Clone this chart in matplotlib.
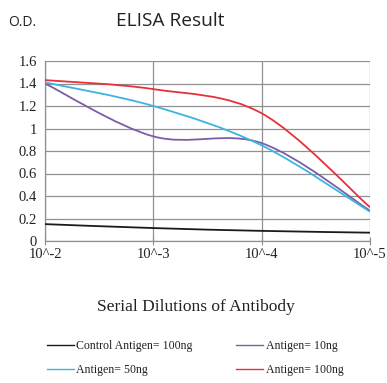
import matplotlib
matplotlib.use("Agg")
import matplotlib.pyplot as plt
from matplotlib.path import Path
from matplotlib.patches import PathPatch
from matplotlib.lines import Line2D

x_labels = ["10^-2", "10^-3", "10^-4", "10^-5"]
control_100 = [0.15, 0.115, 0.09, 0.074]
antigen_10 = [1.40, 0.93, 0.87, 0.27]
antigen_50 = [1.41, 1.20, 0.85, 0.26]
antigen_100 = [1.43, 1.35, 1.135, 0.30]

series = [
    ("Control Antigen= 100ng", control_100, "#1a1a1a"),
    ("Antigen= 10ng", antigen_10, "#7b5ea7"),
    ("Antigen= 50ng", antigen_50, "#3cb4e0"),
    ("Antigen= 100ng", antigen_100, "#e8303a"),
]

fig = plt.figure(figsize=(3.87, 3.83), dpi=100)
ax = fig.add_axes([45/387, 1-241/383, 325/387, 180/383])

def smooth_path(xs, ys):
    pts = list(zip(xs, ys))
    n = len(pts)
    verts = [pts[0]]
    codes = [Path.MOVETO]
    for i in range(n - 1):
        p0 = pts[i - 1] if i > 0 else pts[i]
        p1 = pts[i]
        p2 = pts[i + 1]
        p3 = pts[i + 2] if i + 2 < n else pts[i + 1]
        c1 = (p1[0] + (p2[0] - p0[0]) / 6, p1[1] + (p2[1] - p0[1]) / 6)
        c2 = (p2[0] - (p3[0] - p1[0]) / 6, p2[1] - (p3[1] - p1[1]) / 6)
        verts += [c1, c2, p2]
        codes += [Path.CURVE4] * 3
    return Path(verts, codes)

xs = list(range(len(x_labels)))
handles = []
for label, ys, color in series:
    ax.add_patch(PathPatch(smooth_path(xs, ys), facecolor="none",
                           edgecolor=color, lw=1.3, zorder=3))
    handles.append(Line2D([], [], color=color, lw=1.0, label=label))

ax.set_xlim(0, 3)
ax.set_ylim(0, 1.6)
ax.set_xticks(xs)
ax.set_xticklabels(x_labels)
ax.set_yticks([0, 0.2, 0.4, 0.6, 0.8, 1.0, 1.2, 1.4, 1.6])
ax.set_yticklabels(["0", "0.2", "0.4", "0.6", "0.8", "1", "1.2", "1.4", "1.6"])
ax.grid(True, color="#909090", lw=0.9)
ax.set_axisbelow(True)
for s in ["top", "right"]:
    ax.spines[s].set_visible(False)
for s in ["left", "bottom"]:
    ax.spines[s].set_color("#909090")
    ax.spines[s].set_linewidth(0.9)
ax.tick_params(axis="x", direction="inout", length=6, color="#909090", pad=2)
ax.tick_params(axis="y", length=0, pad=6)
for lab in ax.get_xticklabels() + ax.get_yticklabels():
    lab.set_fontfamily("Liberation Serif")
    lab.set_fontsize(10.5)
    lab.set_color("#222222")

fig.text(8/387, 1-22/383, "O.D.", fontsize=10, family="Open Sans",
         va="center", ha="left", color="#222222")
fig.text(170/387, 1-21/383, "ELISA Result", fontsize=13.8, family="Open Sans",
         va="center", ha="center", color="#222222")
fig.text(196/387, 1-307/383, "Serial Dilutions of Antibody", fontsize=12.5,
         family="Liberation Serif", va="center", ha="center", color="#222222")

order = [handles[0], handles[2], handles[1], handles[3]]
leg = fig.legend(handles=order, loc="center", bbox_to_anchor=(195/387, 1-358/383),
                 ncol=2, frameon=False, handlelength=2.3, handletextpad=0.2,
                 columnspacing=3.6, labelspacing=1.0,
                 prop={"family": "Liberation Serif", "size": 8.6})
for t in leg.get_texts():
    t.set_color("#222222")

fig.savefig("out.png", dpi=100, facecolor="white")
